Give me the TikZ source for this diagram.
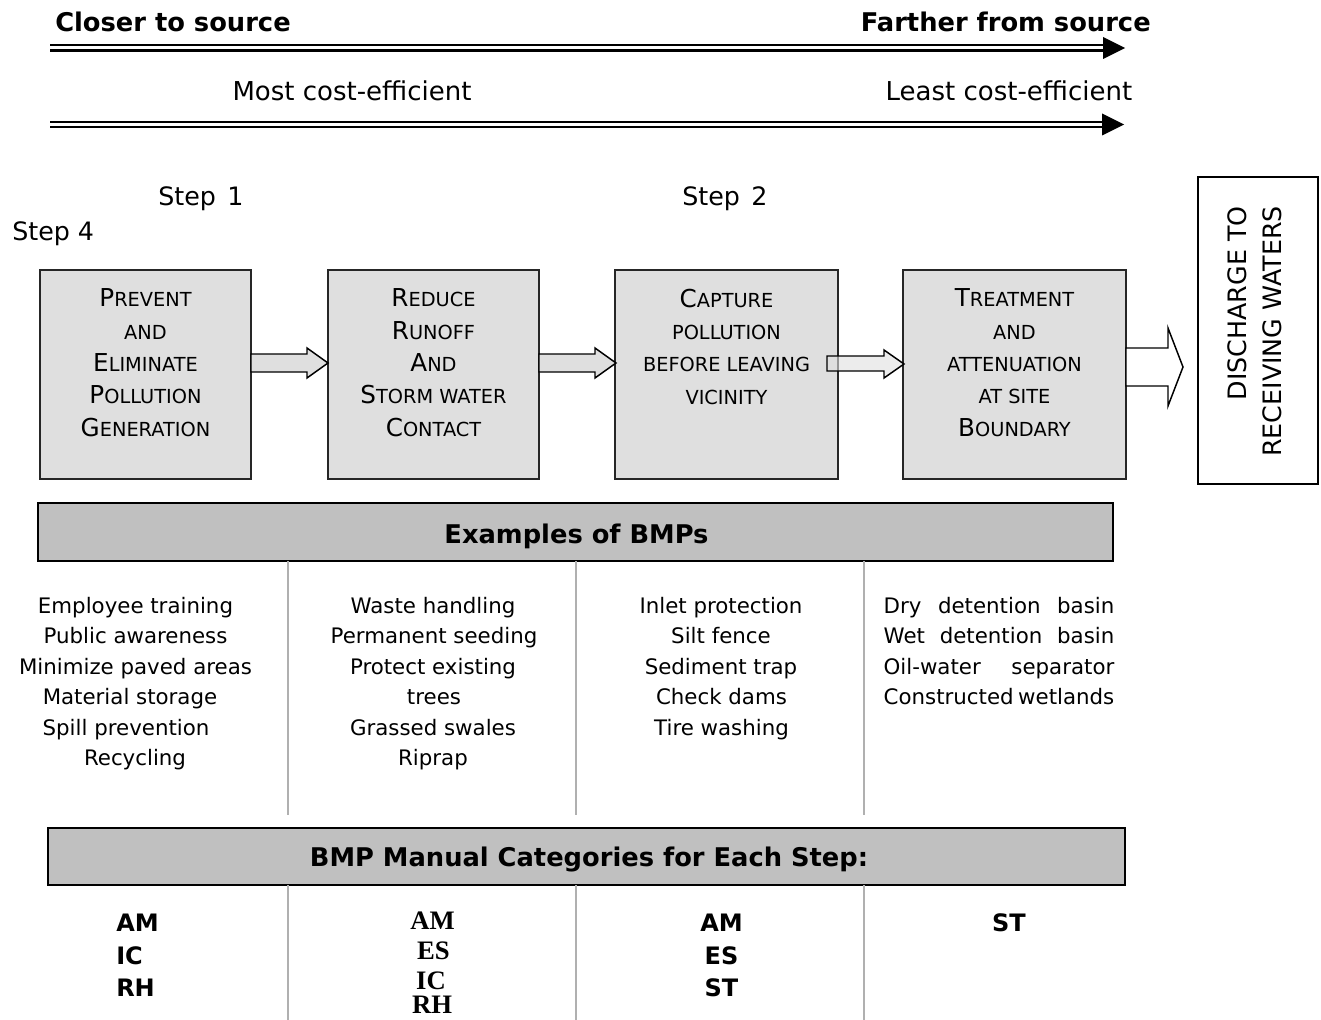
\documentclass[tikz,border=0pt]{standalone}
\usepackage{fontspec}
\setmainfont{DejaVu Sans}
\newfontfamily\serifbf{Liberation Serif}
\definecolor{boxgray}{HTML}{DFDFDF}
\definecolor{bangray}{HTML}{C0C0C0}
\definecolor{sepgray}{HTML}{B0B0B0}
\newcommand\BC[1]{{\fontsize{18.5}{24.2}\selectfont #1}}
\begin{document}
\begin{tikzpicture}[x=0.75pt,y=-0.75pt,
  hdr/.style={font=\bfseries\fontsize{19.3}{23}\selectfont, inner sep=0},
  cost/.style={font=\fontsize{19.5}{23}\selectfont, inner sep=0, anchor=base},
  steplbl/.style={font=\fontsize{19}{23}\selectfont, inner sep=0, anchor=base west},
  dblarrow/.style={double, double distance=2.25pt, line width=1.65pt},
  stepbox/.style={draw=black!85, line width=1.5pt, fill=boxgray, minimum height=156.75pt, inner sep=0, outer sep=0},
  boxtxt/.style={align=center, inner sep=0, font=\fontsize{14.5}{24.2}\selectfont, anchor=north},
  blockarrow/.style={draw=black, line width=1.1pt, fill=boxgray},
  banner/.style={draw=black, line width=1.5pt, fill=bangray, inner sep=0, outer sep=0},
  bantxt/.style={font=\bfseries\fontsize{19.3}{23}\selectfont, inner sep=0, anchor=base},
  coltxt/.style={font=\fontsize{16}{20}\selectfont, inner sep=0, anchor=base},
  sep/.style={draw=sepgray, line width=1.5pt},
  catsans/.style={font=\bfseries\fontsize{18}{20}\selectfont, inner sep=0},
  catserif/.style={font=\serifbf\bfseries\fontsize{20}{22}\selectfont, inner sep=0, anchor=base}
]
\useasboundingbox (0,0) rectangle (1321,1020);

% top headers and arrows
\node[hdr, anchor=base west] (closer) at (55,31.5) {Closer to source};
\node[hdr, anchor=base east] (farther) at (1151,31.5) {Farther from source};
\coordinate (c1s) at (50,48);
\coordinate (c1e) at (1103,48);
\draw[dblarrow] (c1s) -- (c1e);
\fill (c1e) ++(0,-11) -- ++(22,11) -- ++(-22,11) -- cycle;

\node[cost] (most) at (352,101) {Most cost-efficient};
\node[cost] (least) at (1009,101) {Least cost-efficient};
\coordinate (c2s) at (50,124.5);
\coordinate (c2e) at (1102,124.5);
\draw[dblarrow] (c2s) -- (c2e);
\fill (c2e) ++(0,-11) -- ++(22,11) -- ++(-22,11) -- cycle;

% step labels
\node[steplbl] (st1) at (158,205) {Step\hspace{0.45em}1};
\node[steplbl] (st2) at (682,205) {Step\hspace{0.45em}2};
\node[steplbl] (st4) at (12,240) {Step 4};

% boxes
\node[stepbox, minimum width=158.25pt] (b1) at (145.5,374.5) {};
\node[stepbox, minimum width=158.25pt] (b2) at (433.5,374.5) {};
\node[stepbox, minimum width=167.25pt] (b3) at (726.5,374.5) {};
\node[stepbox, minimum width=167.25pt] (b4) at (1014.5,374.5) {};

\node[boxtxt] (t1) at (145.5,288.7) {\BC{P}REVENT\\AND\\\BC{E}LIMINATE\\\BC{P}OLLUTION\\\BC{G}ENERATION};
\node[boxtxt] (t2) at (433.5,288.7) {\BC{R}EDUCE\\\BC{R}UNOFF\\\BC{A}ND\\\BC{S}TORM WATER\\\BC{C}ONTACT};
\node[boxtxt] (t3) at (726.5,288.7) {\BC{C}APTURE\\POLLUTION\\BEFORE LEAVING\\VICINITY};
\node[boxtxt] (t4) at (1014.5,288.7) {\BC{T}REATMENT\\AND\\ATTENUATION\\AT SITE\\\BC{B}OUNDARY};

% block arrows
\draw[blockarrow] (b1.east) ++(0,-20.5) -- ++(56,0) -- ++(0,-6) -- ++(21,15) -- ++(-21,15) -- ++(0,-6) -- ++(-56,0) -- cycle;
\draw[blockarrow] (b2.east) ++(0,-20.5) -- ++(56,0) -- ++(0,-6) -- ++(21,15) -- ++(-21,15) -- ++(0,-6) -- ++(-56,0) -- cycle;
\draw[blockarrow, fill opacity=0.6] (b3.east) ++(-11,-18.5) -- ++(57,0) -- ++(0,-6) -- ++(20,14) -- ++(-20,14) -- ++(0,-7) -- ++(-57,0) -- cycle;

% discharge
\node[draw=black, line width=1.5pt, minimum width=90pt, minimum height=230.25pt, inner sep=0, outer sep=0] (dis) at (1258,330.5) {};
\node[rotate=90, align=right, inner sep=0, font=\fontsize{19}{26}\selectfont] (distxt) at (1255,331.5) {DISCHARGE TO\\RECEIVING WATERS};
\draw[draw=black, line width=1.1pt, fill=white] (b4.east) ++(0,-26.5) -- ++(42,0) -- ++(0,-20) -- ++(15,39) -- ++(-15,39) -- ++(0,-20) -- ++(-42,0) -- cycle;

% banner 1
\node[banner, minimum width=806.25pt, minimum height=43.5pt] (ban1) at (575.5,532) {};
\node[bantxt] (ban1txt) at (576.5,543.5) {Examples of BMPs};

% separators
\coordinate (s1t) at (288,561); \coordinate (s1b) at (288,815);
\coordinate (s2t) at (576,561); \coordinate (s2b) at (576,815);
\coordinate (s3t) at (864,561); \coordinate (s3b) at (864,815);
\draw[sep] (s1t) -- (s1b);
\draw[sep] (s2t) -- (s2b);
\draw[sep] (s3t) -- (s3b);

% column 1
\node[coltxt] (c1a) at (135.5,613) {Employee training};
\node[coltxt] (c1b) at (135.5,643.5) {Public awareness};
\node[coltxt] (c1c) at (135.5,674) {Minimize paved areas};
\node[coltxt] (c1d) at (130,704.5) {Material storage};
\node[coltxt] (c1e) at (126,735) {Spill prevention};
\node[coltxt] (c1f) at (135,765.5) {Recycling};
% column 2
\node[coltxt] (c2a) at (433,613) {Waste handling};
\node[coltxt] (c2b) at (434,643.5) {Permanent seeding};
\node[coltxt] (c2c) at (433,674) {Protect existing};
\node[coltxt] (c2d) at (434,704.5) {trees};
\node[coltxt] (c2e) at (433,735) {Grassed swales};
\node[coltxt] (c2f) at (433,765.5) {Riprap};
% column 3
\node[coltxt] (c3a) at (721,613) {Inlet protection};
\node[coltxt] (c3b) at (721,643.5) {Silt fence};
\node[coltxt] (c3c) at (721,674) {Sediment trap};
\node[coltxt] (c3d) at (721.5,704.5) {Check dams};
\node[coltxt] (c3e) at (721.5,735) {Tire washing};
% column 4
\node[coltxt] (c4a) at (999,613) {\makebox[173pt][s]{Dry detention basin}};
\node[coltxt] (c4b) at (999,643.5) {\makebox[173pt][s]{Wet detention basin}};
\node[coltxt] (c4c) at (999,674) {\makebox[173pt][s]{Oil-water separator}};
\node[coltxt] (c4d) at (999,704.5) {\makebox[173pt][s]{Constructed wetlands}};

% banner 2
\node[banner, minimum width=807.75pt, minimum height=42.75pt] (ban2) at (586.5,856.5) {};
\node[bantxt] (ban2txt) at (589,866) {BMP Manual Categories for Each Step:};

\coordinate (s4t) at (288,885); \coordinate (s4b) at (288,1020);
\coordinate (s5t) at (576,885); \coordinate (s5b) at (576,1020);
\coordinate (s6t) at (864,885); \coordinate (s6b) at (864,1020);
\draw[sep] (s4t) -- (s4b);
\draw[sep] (s5t) -- (s5b);
\draw[sep] (s6t) -- (s6b);

% categories
\node[catsans, anchor=base west] (k1a) at (116,931.5) {AM};
\node[catsans, anchor=base west] (k1b) at (116,964) {IC};
\node[catsans, anchor=base west] (k1c) at (116,996) {RH};
\node[catserif] (k2a) at (432.7,929.3) {AM};
\node[catserif] (k2b) at (433.5,959) {ES};
\node[catserif] (k2c) at (431,989) {IC};
\node[catserif] (k2d) at (432,1013) {RH};
\node[catsans, anchor=base] (k3a) at (721.5,931.5) {AM};
\node[catsans, anchor=base] (k3b) at (721.5,964) {ES};
\node[catsans, anchor=base] (k3c) at (721.5,996) {ST};
\node[catsans, anchor=base] (k4a) at (1009,931.5) {ST};
\end{tikzpicture}
\end{document}
